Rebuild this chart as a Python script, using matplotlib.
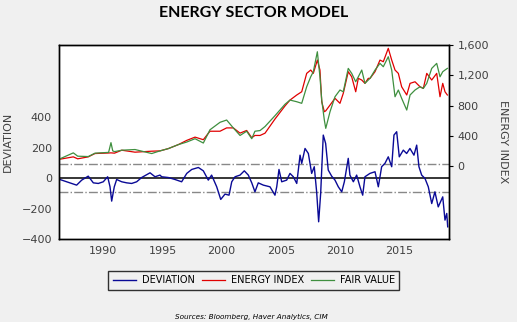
import matplotlib.pyplot as plt

# energy index and fair value (right axis)
px_years = [1986.34, 1987.47, 1987.84, 1988.73, 1989.30, 1990.45, 1990.65,
            1990.80, 1990.95, 1991.56, 1992.68, 1994.09, 1994.79, 1995.49,
            1996.34, 1997.05, 1997.75, 1998.45, 1999.01, 1999.86, 2000.42,
            2000.98, 2001.55, 2002.11, 2002.54, 2002.81, 2003.24, 2003.66,
            2004.50, 2005.35, 2005.77, 2006.34, 2006.76, 2007.18, 2007.52,
            2007.74, 2008.08, 2008.30, 2008.45, 2008.67, 2008.79, 2009.15,
            2009.57, 2009.99, 2010.27, 2010.69, 2010.98, 2011.32, 2011.54,
            2011.83, 2012.10, 2012.38, 2012.53, 2012.95, 2013.37, 2013.65,
            2014.07, 2014.36, 2014.64, 2014.92, 2015.20, 2015.63, 2015.91,
            2016.33, 2016.75, 2017.03, 2017.32, 2017.74, 2018.16, 2018.44,
            2018.67, 2018.86, 2019.06]
energy_index = [90, 121, 95, 121, 165, 172, 174, 172, 170, 209, 183, 196, 200,
                230, 283, 339, 382, 348, 460, 460, 504, 504, 435, 470, 374,
                404, 404, 434, 621, 795, 872, 939, 982, 1225, 1269, 1225,
                1401, 1269, 850, 718, 730, 806, 895, 829, 961, 1247, 1180,
                982, 1159, 1137, 1093, 1159, 1159, 1247, 1401, 1379, 1556,
                1401, 1269, 1225, 1048, 939, 1093, 1114, 1048, 1026, 1225,
                1137, 1225, 916, 1093, 982, 939]
fair_value = [95, 174, 130, 125, 170, 180, 309, 200, 190, 209, 218, 165, 200,
              230, 283, 317, 361, 304, 479, 578, 608, 504, 404, 460, 361, 460,
              469, 522, 665, 817, 872, 850, 829, 1048, 1180, 1247, 1511, 1180,
              872, 608, 498, 718, 916, 1005, 982, 1291, 1225, 1114, 1180,
              1269, 1093, 1137, 1159, 1269, 1357, 1313, 1445, 1269, 916, 1005,
              895, 740, 939, 1005, 1048, 1026, 1093, 1291, 1357, 1180, 1247,
              1269, 1291]

# deviation (left axis)
dev_years = [1986.34, 1986.91, 1987.33, 1987.75, 1988.18, 1988.73, 1989.16,
             1989.58, 1990.00, 1990.37, 1990.57, 1990.71, 1990.93, 1991.13,
             1991.56, 1991.98, 1992.40, 1992.82, 1993.24, 1993.95, 1994.37,
             1994.79, 1994.93, 1995.49, 1996.06, 1996.62, 1997.05, 1997.47,
             1998.03, 1998.45, 1998.87, 1999.15, 1999.58, 1999.92, 2000.28,
             2000.62, 2000.85, 2001.13, 2001.55, 2001.91, 2002.25, 2002.54,
             2002.81, 2003.09, 2003.52, 2004.08, 2004.50, 2004.65, 2004.84,
             2005.07, 2005.49, 2005.77, 2006.05, 2006.34, 2006.62, 2006.76,
             2007.04, 2007.32, 2007.60, 2007.82, 2008.02, 2008.19, 2008.36,
             2008.58, 2008.78, 2009.00, 2009.29, 2009.57, 2009.85, 2010.14,
             2010.36, 2010.69, 2010.83, 2011.12, 2011.40, 2011.68, 2011.91,
             2012.10, 2012.52, 2012.95, 2013.23, 2013.51, 2013.79, 2014.07,
             2014.36, 2014.55, 2014.78, 2015.00, 2015.34, 2015.62, 2015.90,
             2016.24, 2016.47, 2016.66, 2016.89, 2017.17, 2017.45, 2017.74,
             2018.01, 2018.29, 2018.67, 2018.86, 2019.01, 2019.09]
deviation = [-9, -24, -35, -46, -13, 13, -31, -35, -24, 9, -57, -151, -57, -9,
             -24, -31, -35, -24, 4, 35, 9, 20, 9, 4, -9, -24, 31, 57, 70, 48,
             -13, 20, -57, -140, -105, -112, -24, 9, 20, 48, 20, -31, -90, -31,
             -46, -57, -112, -57, 57, -24, -13, 31, 9, -35, 151, 97, 195, 162,
             31, 75, -90, -287, -101, 283, 228, 53, 13, -13, -57, -90, -24,
             130, 20, -24, 20, -57, -112, 9, 31, 42, -57, 75, 97, 140, 75, 283,
             305, 140, 184, 162, 195, 151, 217, 75, 20, -2, -57, -167, -90,
             -189, -123, -276, -232, -320]

band = 93
year_ticks = [1990, 1995, 2000, 2005, 2010, 2015]
dev_ticks = [-400, -200, 0, 200, 400]
index_ticks = [0, 400, 800, 1200, 1600]

bg = "#f0f0f0"
navy = "#0a0a96"
red = "#e00000"
green = "#3f8f3f"


def main():
    fig = plt.figure(figsize=(5.17, 3.22), dpi=100, facecolor=bg)
    ax = fig.add_axes([0.1141, 0.2578, 0.7544, 0.6024])
    ax2 = ax.twinx()

    ax.axhline(0, color="black", lw=1.1, zorder=1)
    ax.axhline(band, color="#888888", lw=1.0, ls="-.", zorder=1)
    ax.axhline(-band, color="#888888", lw=1.0, ls="-.", zorder=1)
    l1, = ax.plot(dev_years, deviation, color=navy, lw=1.0, zorder=2)

    l2, = ax2.plot(px_years, energy_index, color=red, lw=0.9)
    l3, = ax2.plot(px_years, fair_value, color=green, lw=0.9)

    ax.set_xlim(1986.26, 2019.2)
    ax.set_ylim(-400, 875)
    ax2.set_ylim(-965, 1600)

    ax.set_xticks(year_ticks)
    ax.set_yticks(dev_ticks)
    ax2.set_yticks(index_ticks)
    ax2.set_yticklabels([f"{v:,}" for v in index_ticks])

    ax.tick_params(axis="both", length=0, labelsize=8, colors="#404040", pad=5)
    ax2.tick_params(axis="y", length=3, width=0.8, labelsize=8,
                    labelcolor="#404040", pad=3)
    for a in (ax, ax2):
        for s in a.spines.values():
            s.set_color("black")
            s.set_linewidth(1.0)

    ax.set_ylabel("DEVIATION", fontsize=8, color="#404040", labelpad=6)
    ax2.set_ylabel("ENERGY INDEX", fontsize=8, color="#404040",
                   rotation=270, labelpad=14)

    fig.text(0.491, 0.96, "ENERGY SECTOR MODEL", ha="center", va="center",
             fontsize=11.5, fontweight="bold", family="Lato")

    leg = fig.legend([l1, l2, l3], ["DEVIATION", "ENERGY INDEX", "FAIR VALUE"],
                     loc="center", bbox_to_anchor=(0.491, 0.13), ncol=3,
                     fontsize=7, frameon=True, fancybox=False,
                     handlelength=2.4, handletextpad=0.6, columnspacing=0.7,
                     borderpad=0.45)
    leg.get_frame().set_edgecolor("black")
    leg.get_frame().set_facecolor(bg)
    leg.get_frame().set_linewidth(1.0)

    fig.text(0.486, 0.017, "Sources: Bloomberg, Haver Analytics, CIM",
             ha="center", va="center", fontsize=5.2, style="italic")

    fig.savefig("out.png", dpi=100, facecolor=bg)
    return 0


if __name__ == "__main__":
    main()
